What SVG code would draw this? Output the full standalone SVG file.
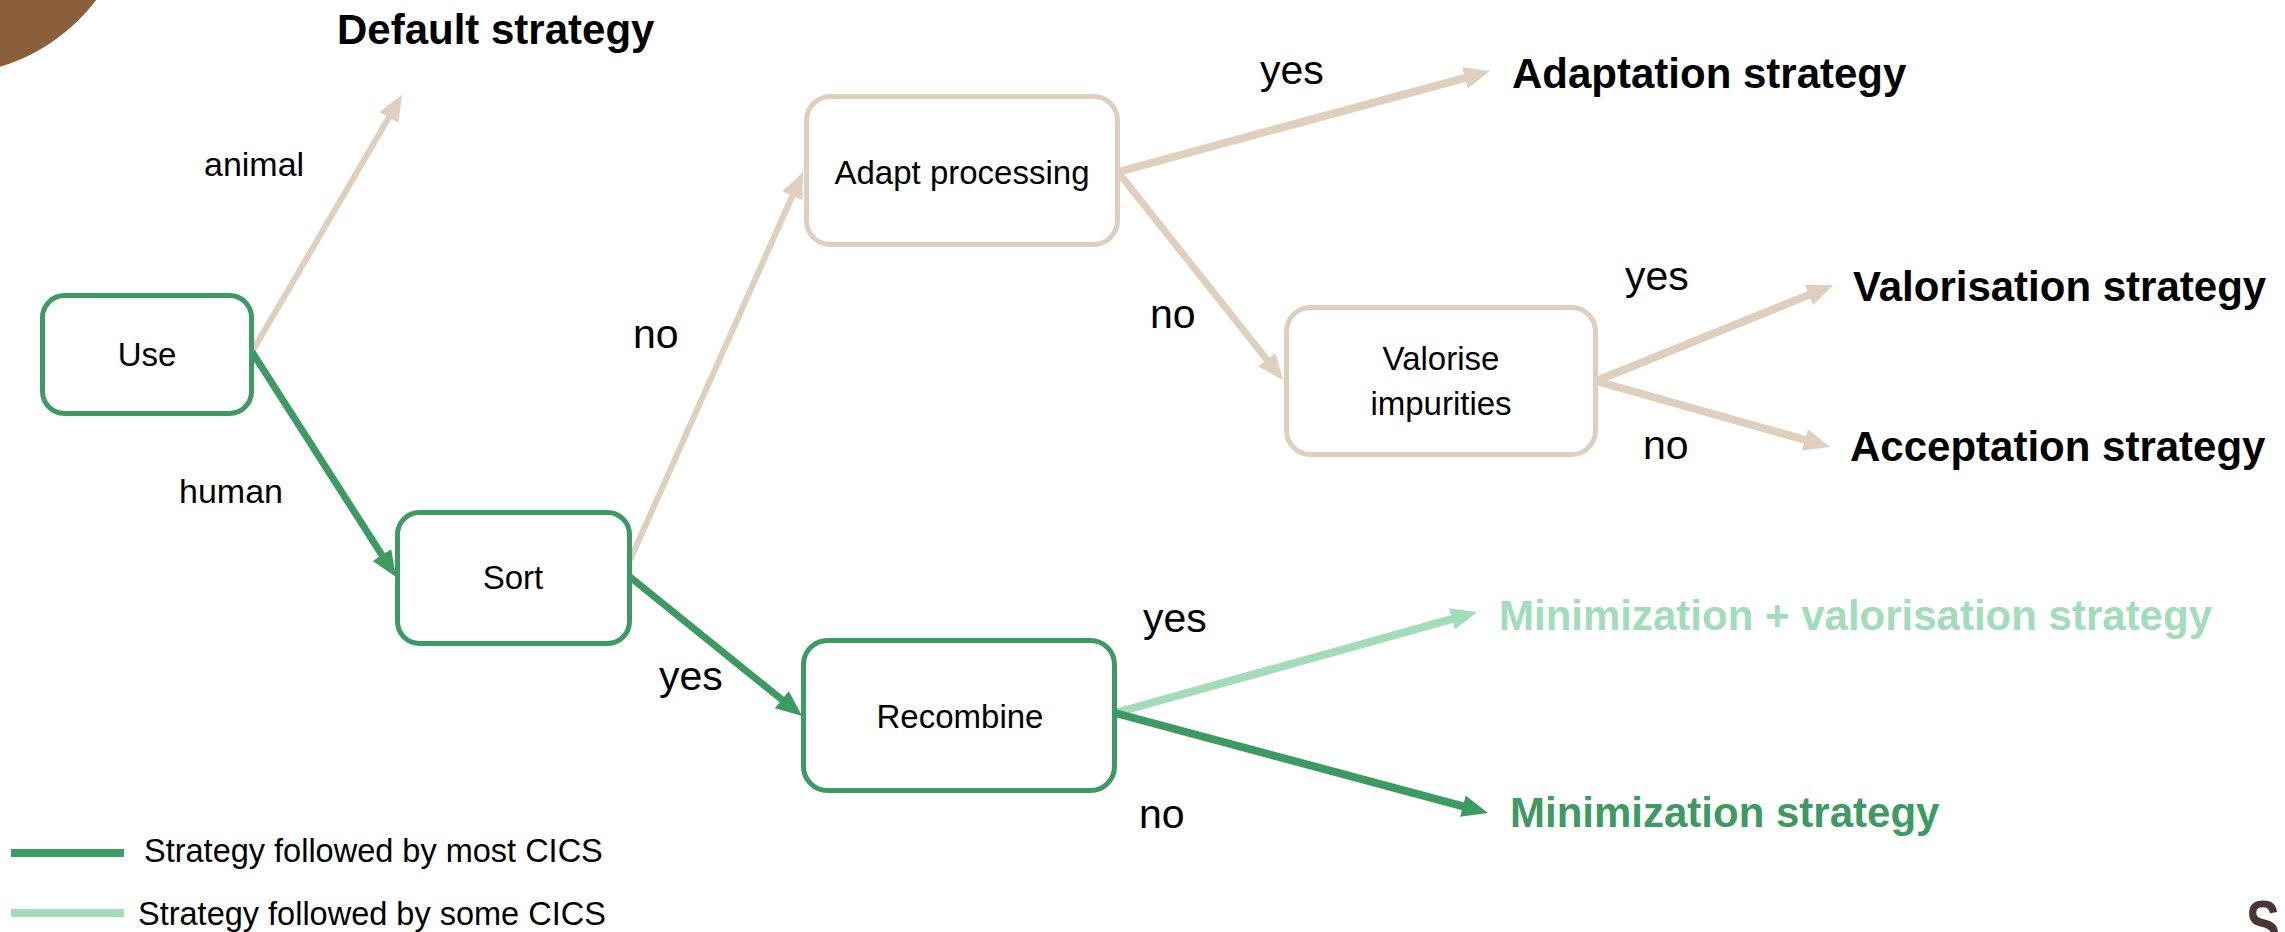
<svg xmlns="http://www.w3.org/2000/svg" width="2285" height="932" viewBox="0 0 2285 932">
<style>
.box{fill:#fff;stroke-width:5}
.g{stroke:#3D9A62}
.t{stroke:#DFD0BD}
.lbl{font-family:"Liberation Sans",Arial,sans-serif;font-size:33px;fill:#000;text-anchor:middle}
.edge{font-family:"Liberation Sans",Arial,sans-serif;font-size:41px;fill:#000}
.small{font-family:"Liberation Sans",Arial,sans-serif;font-size:34px;fill:#000}
.head{font-family:"Liberation Sans",Arial,sans-serif;font-size:42px;font-weight:bold;fill:#000}
.leg{font-family:"Liberation Sans",Arial,sans-serif;font-size:32.5px;fill:#000}
.c{fill:none;stroke-linecap:butt}
</style>
<defs>
<marker id="aT" markerUnits="userSpaceOnUse" markerWidth="26" markerHeight="22" refX="8" refY="11" orient="auto" viewBox="0 0 26 22"><path d="M0,0 L26,11 L0,22 z" fill="#DFD0BD"/></marker>
<marker id="aG" markerUnits="userSpaceOnUse" markerWidth="26" markerHeight="22" refX="8" refY="11" orient="auto" viewBox="0 0 26 22"><path d="M0,0 L26,11 L0,22 z" fill="#3D9A62"/></marker>
<marker id="aL" markerUnits="userSpaceOnUse" markerWidth="26" markerHeight="22" refX="8" refY="11" orient="auto" viewBox="0 0 26 22"><path d="M0,0 L26,11 L0,22 z" fill="#A2DCBA"/></marker>
</defs>
<rect width="2285" height="932" fill="#fff"/>
<circle cx="-55" cy="-115" r="190" fill="#8B5E3C"/>
<text x="2246" y="947" font-family="Liberation Sans,Arial,sans-serif" font-size="66" font-weight="bold" fill="#4A3434" textLength="34" lengthAdjust="spacingAndGlyphs">S</text>

<g id="connectors">
<path class="c" d="M252,352 L392.9,110.5" stroke="#DFD0BD" stroke-width="6" marker-end="url(#aT)"/>
<path class="c" d="M252,352 L386.3,561.8" stroke="#3D9A62" stroke-width="7" marker-end="url(#aG)"/>
<path class="c" d="M630,560 L795.7,188.5" stroke="#DFD0BD" stroke-width="6" marker-end="url(#aT)"/>
<path class="c" d="M1118,172 L1472.6,75.8" stroke="#DFD0BD" stroke-width="8" marker-end="url(#aT)"/>
<path class="c" d="M1118,172 L1271.8,365.9" stroke="#DFD0BD" stroke-width="7" marker-end="url(#aT)"/>
<path class="c" d="M1596,381 L1816.4,291.9" stroke="#DFD0BD" stroke-width="8" marker-end="url(#aT)"/>
<path class="c" d="M1596,381 L1812.7,442" stroke="#DFD0BD" stroke-width="8" marker-end="url(#aT)"/>
<path class="c" d="M630,577 L788.1,704.6" stroke="#3D9A62" stroke-width="7" marker-end="url(#aG)"/>
<path class="c" d="M1115,713 L1459.7,616.9" stroke="#A2DCBA" stroke-width="8" marker-end="url(#aL)"/>
<path class="c" d="M1115,713 L1470.6,808.3" stroke="#3D9A62" stroke-width="8" marker-end="url(#aG)"/>
</g>

<g id="edge-labels">
<text class="small" x="204" y="176">animal</text>
<text class="small" x="179" y="503">human</text>
<text class="edge" x="633" y="348">no</text>
<text class="edge" x="1260" y="84">yes</text>
<text class="edge" x="1150" y="328">no</text>
<text class="edge" x="1625" y="290">yes</text>
<text class="edge" x="1643" y="459">no</text>
<text class="edge" x="659" y="690">yes</text>
<text class="edge" x="1143" y="632">yes</text>
<text class="edge" x="1139" y="828">no</text>
</g>

<g id="node-use"><rect class="box g" x="42.5" y="295.5" width="209" height="118" rx="22"/><text class="lbl" x="147" y="366">Use</text></g>
<g id="node-sort"><rect class="box g" x="397.5" y="512.5" width="232" height="131" rx="22"/><text class="lbl" x="513" y="589">Sort</text></g>
<g id="node-adapt"><rect class="box t" x="806.5" y="96.5" width="311" height="148" rx="24"/><text class="lbl" x="962" y="184">Adapt processing</text></g>
<g id="node-valorise"><rect class="box t" x="1286.5" y="307.5" width="309" height="147" rx="24"/><text class="lbl" x="1441" y="370">Valorise</text><text class="lbl" x="1441" y="415">impurities</text></g>
<g id="node-recombine"><rect class="box g" x="803.5" y="640.5" width="311" height="150" rx="24"/><text class="lbl" x="960" y="728">Recombine</text></g>

<g id="out-default"><text class="head" x="337" y="44">Default strategy</text></g>
<g id="out-adaptation"><text class="head" x="1512" y="88">Adaptation strategy</text></g>
<g id="out-valorisation"><text class="head" x="1853" y="301">Valorisation strategy</text></g>
<g id="out-acceptation"><text class="head" x="1850" y="461">Acceptation strategy</text></g>
<g id="out-minval"><text class="head" x="1499" y="630" style="fill:#A2DCBA">Minimization + valorisation strategy</text></g>
<g id="out-min"><text class="head" x="1510" y="827" style="fill:#3D9A62">Minimization strategy</text></g>

<g id="legend">
<line x1="11" y1="853" x2="124" y2="853" stroke="#3D9A62" stroke-width="8"/>
<text class="leg" x="144" y="862">Strategy followed by most CICS</text>
<line x1="11" y1="913" x2="124" y2="913" stroke="#A2DCBA" stroke-width="8"/>
<text class="leg" x="138" y="925">Strategy followed by some CICS</text>
</g>
</svg>
